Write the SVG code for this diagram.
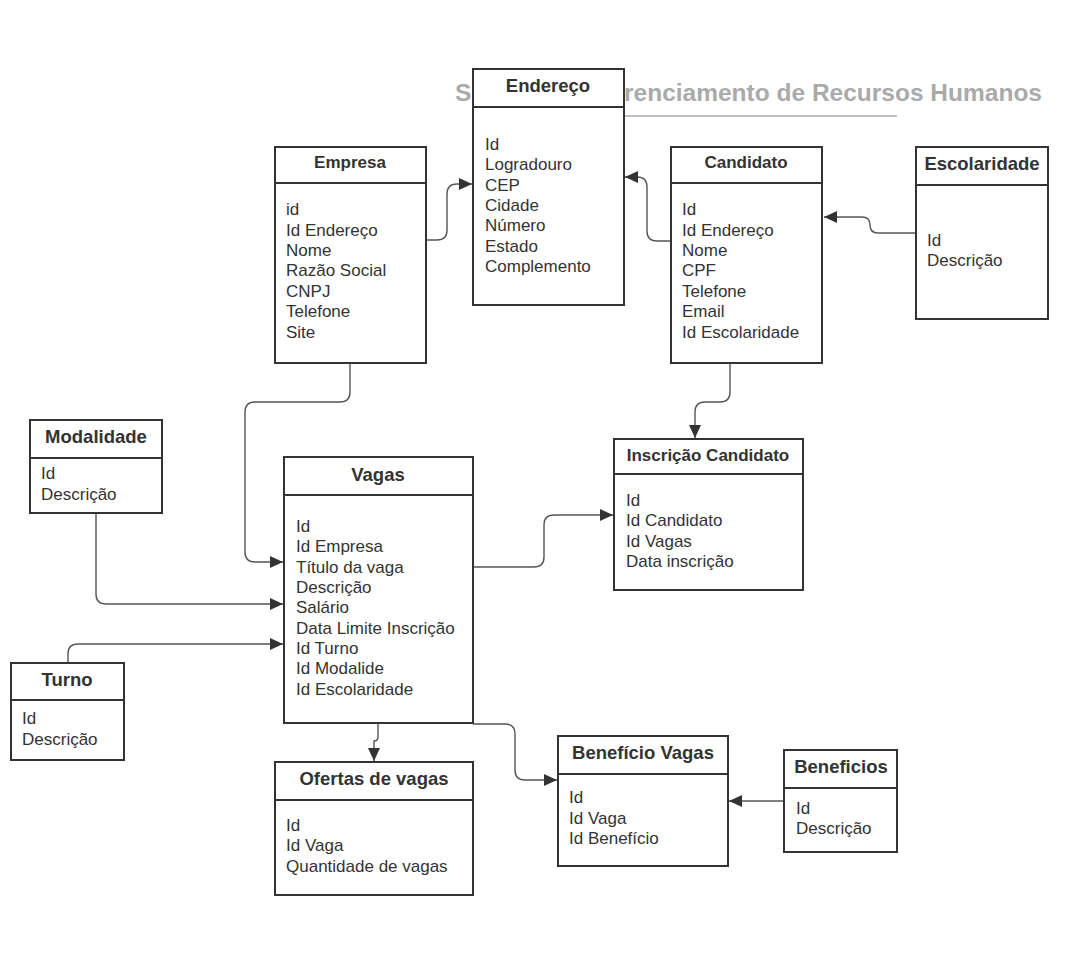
<svg xmlns="http://www.w3.org/2000/svg" width="1080" height="963" viewBox="0 0 1080 963">
<style>
.box{fill:#fff;stroke:#333;stroke-width:2}
.div{stroke:#333;stroke-width:2}
.t{font-family:"Liberation Sans",Arial,sans-serif;font-weight:bold;font-size:18.5px;fill:#333;text-anchor:middle}
.ts{font-size:17px}
.f{font-family:"Liberation Sans",Arial,sans-serif;font-size:17px;fill:#333}
.c{fill:none;stroke:#555;stroke-width:1.4}
.ttl{font-family:"Liberation Sans",Arial,sans-serif;font-weight:bold;font-size:24.5px;fill:#aaa}
</style>
<defs>
<marker id="ah" markerUnits="userSpaceOnUse" markerWidth="14" markerHeight="12" refX="13" refY="6" orient="auto">
<path d="M0,0 L13,6 L0,12 Z" fill="#333"/>
</marker>
</defs>
<rect width="1080" height="963" fill="#fff"/>
<g id="title">
<text class="ttl" x="455" y="101">S</text>
<text class="ttl" x="624" y="101">renciamento de Recursos Humanos</text>
<line x1="625" y1="116" x2="897" y2="116" stroke="#aaa" stroke-width="1.5"/>
</g>
<g id="connectors">
<path class="c" marker-end="url(#ah)" d="M426,240 H437 Q447,240 447,230 V194 Q447,184 457,184 H472"/>
<path class="c" marker-end="url(#ah)" d="M671,241 H657 Q647,241 647,231 V187 Q647,177 637,177 H625"/>
<path class="c" marker-end="url(#ah)" d="M916,233 H878 Q870,233 870,225 Q870,217 862,217 H824"/>
<path class="c" marker-end="url(#ah)" d="M350,363 V392 Q350,402 340,402 H255 Q245,402 245,412 V552 Q245,562 255,562 H283"/>
<path class="c" marker-end="url(#ah)" d="M96,513 V594 Q96,604 106,604 H283"/>
<path class="c" marker-end="url(#ah)" d="M68,663 V654 Q68,644 78,644 H283"/>
<path class="c" marker-end="url(#ah)" d="M730,363 V392 Q730,402 720,402 H705 Q695,402 695,412 V438"/>
<path class="c" marker-end="url(#ah)" d="M473,567 H534 Q544,567 544,557 V525 Q544,515 554,515 H613"/>
<path class="c" marker-end="url(#ah)" d="M378,723 V737 Q378,741 374,741 V761"/>
<path class="c" marker-end="url(#ah)" d="M473,724 H505 Q515,724 515,734 V770 Q515,780 525,780 H557"/>
<path class="c" marker-end="url(#ah)" d="M784,801 H729"/>
</g>
<g id="endereco">
<rect class="box" x="473" y="69" width="151" height="236"/>
<line class="div" x1="473" y1="107" x2="624" y2="107"/>
<text class="t" x="548" y="92">Endereço</text>
<text class="f" x="485" y="150">Id</text>
<text class="f" x="485" y="170">Logradouro</text>
<text class="f" x="485" y="191">CEP</text>
<text class="f" x="485" y="211">Cidade</text>
<text class="f" x="485" y="231">Número</text>
<text class="f" x="485" y="252">Estado</text>
<text class="f" x="485" y="272">Complemento</text>
</g>
<g id="empresa">
<rect class="box" x="275" y="147" width="151" height="216"/>
<line class="div" x1="275" y1="183" x2="426" y2="183"/>
<text class="t ts" x="350" y="168">Empresa</text>
<text class="f" x="286" y="215">id</text>
<text class="f" x="286" y="236">Id Endereço</text>
<text class="f" x="286" y="256">Nome</text>
<text class="f" x="286" y="276">Razão Social</text>
<text class="f" x="286" y="297">CNPJ</text>
<text class="f" x="286" y="317">Telefone</text>
<text class="f" x="286" y="338">Site</text>
</g>
<g id="candidato">
<rect class="box" x="671" y="147" width="151" height="216"/>
<line class="div" x1="671" y1="183" x2="822" y2="183"/>
<text class="t ts" x="746" y="168">Candidato</text>
<text class="f" x="682" y="215">Id</text>
<text class="f" x="682" y="236">Id Endereço</text>
<text class="f" x="682" y="256">Nome</text>
<text class="f" x="682" y="276">CPF</text>
<text class="f" x="682" y="297">Telefone</text>
<text class="f" x="682" y="317">Email</text>
<text class="f" x="682" y="338">Id Escolaridade</text>
</g>
<g id="escolaridade">
<rect class="box" x="916" y="147" width="132" height="172"/>
<line class="div" x1="916" y1="185" x2="1048" y2="185"/>
<text class="t" x="982" y="170">Escolaridade</text>
<text class="f" x="927" y="246">Id</text>
<text class="f" x="927" y="266">Descrição</text>
</g>
<g id="modalidade">
<rect class="box" x="30" y="420" width="132" height="93"/>
<line class="div" x1="30" y1="458" x2="162" y2="458"/>
<text class="t" x="96" y="443">Modalidade</text>
<text class="f" x="41" y="479">Id</text>
<text class="f" x="41" y="500">Descrição</text>
</g>
<g id="vagas">
<rect class="box" x="284" y="457" width="189" height="266"/>
<line class="div" x1="284" y1="495" x2="473" y2="495"/>
<text class="t" x="378" y="481">Vagas</text>
<text class="f" x="296" y="532">Id</text>
<text class="f" x="296" y="552">Id Empresa</text>
<text class="f" x="296" y="573">Título da vaga</text>
<text class="f" x="296" y="593">Descrição</text>
<text class="f" x="296" y="613">Salário</text>
<text class="f" x="296" y="634">Data Limite Inscrição</text>
<text class="f" x="296" y="654">Id Turno</text>
<text class="f" x="296" y="674">Id Modalide</text>
<text class="f" x="296" y="695">Id Escolaridade</text>
</g>
<g id="turno">
<rect class="box" x="11" y="663" width="113" height="97"/>
<line class="div" x1="11" y1="700" x2="124" y2="700"/>
<text class="t" x="67" y="686">Turno</text>
<text class="f" x="22" y="724">Id</text>
<text class="f" x="22" y="745">Descrição</text>
</g>
<g id="inscricao">
<rect class="box" x="614" y="439" width="189" height="151"/>
<line class="div" x1="614" y1="474" x2="803" y2="474"/>
<text class="t ts" x="708" y="461">Inscrição Candidato</text>
<text class="f" x="626" y="506">Id</text>
<text class="f" x="626" y="526">Id Candidato</text>
<text class="f" x="626" y="547">Id Vagas</text>
<text class="f" x="626" y="567">Data inscrição</text>
</g>
<g id="ofertas">
<rect class="box" x="275" y="762" width="198" height="133"/>
<line class="div" x1="275" y1="800" x2="473" y2="800"/>
<text class="t" x="374" y="785">Ofertas de vagas</text>
<text class="f" x="286" y="831">Id</text>
<text class="f" x="286" y="851">Id Vaga</text>
<text class="f" x="286" y="872">Quantidade de vagas</text>
</g>
<g id="beneficio-vagas">
<rect class="box" x="558" y="736" width="170" height="130"/>
<line class="div" x1="558" y1="774" x2="728" y2="774"/>
<text class="t" x="643" y="759">Benefício Vagas</text>
<text class="f" x="569" y="803">Id</text>
<text class="f" x="569" y="824">Id Vaga</text>
<text class="f" x="569" y="844">Id Benefício</text>
</g>
<g id="beneficios">
<rect class="box" x="784" y="750" width="113" height="102"/>
<line class="div" x1="784" y1="788" x2="897" y2="788"/>
<text class="t" x="841" y="773">Beneficios</text>
<text class="f" x="796" y="814">Id</text>
<text class="f" x="796" y="834">Descrição</text>
</g>
</svg>
